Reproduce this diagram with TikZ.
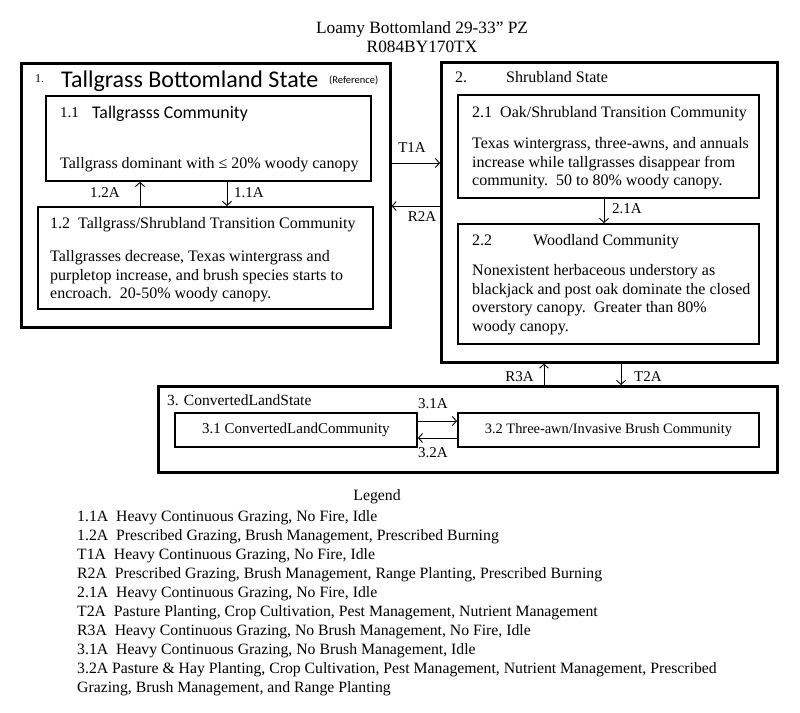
\documentclass[tikz,border=0pt]{standalone}
\usepackage{fontspec}
\setmainfont{Liberation Serif}
\newfontfamily\calfont{Carlito}
\usetikzlibrary{arrows.meta}
\begin{document}
\begin{tikzpicture}[x=1pt,y=-1pt,
  statebox/.style={draw, line width=2.6pt, inner sep=0pt, anchor=north west},
  commbox/.style={draw, line width=1.9pt, inner sep=0pt, anchor=north west},
  body/.style={inner sep=0pt, anchor=north west, align=left, font=\fontsize{16}{18.7}\selectfont},
  line/.style={inner sep=0pt, anchor=base west, font=\fontsize{16}{18.7}\selectfont},
  lbl/.style={inner sep=0pt, anchor=base, font=\fontsize{15}{18}\selectfont},
  arr/.style={-{Straight Barb[length=4pt,width=9pt]}, line width=0.9pt},
  leg/.style={inner sep=0pt, anchor=base west, font=\fontsize{15.75}{19}\selectfont}]
\fill[white] (0,0) rectangle (800,712);
\useasboundingbox (0,0) rectangle (800,712);

% title
\node[lbl, font=\fontsize{17.3}{19}\selectfont] (t1) at (422,33) {Loamy Bottomland 29-33” PZ};
\node[lbl, font=\fontsize{17.3}{19}\selectfont] (t2) at (422,52) {R084BY170TX};

% boxes
\node[statebox, minimum width=369pt, minimum height=264pt] (s1) at (20,62) {};
\node[commbox, minimum width=325pt, minimum height=85pt] (c11) at (45,95) {};
\node[commbox, minimum width=335pt, minimum height=102pt] (c12) at (37,206) {};
\node[statebox, minimum width=336pt, minimum height=300pt] (s2) at (440,61) {};
\node[commbox, minimum width=301pt, minimum height=103pt] (c21) at (457,94) {};
\node[commbox, minimum width=301pt, minimum height=120pt] (c22) at (457,223) {};
\node[statebox, minimum width=619pt, minimum height=86pt] (s3) at (157,385) {};
\node[commbox, minimum width=242pt, minimum height=34pt] (c31) at (174,412) {};
\node[commbox, minimum width=301pt, minimum height=34pt] (c32) at (457,412) {};

% state 1 texts
\node[line, font=\fontsize{12}{14}\selectfont] (n1) at (35,82) {1.};
\node[line, font=\calfont\fontsize{24}{27}\selectfont] (s1t) at (61,87) {Tallgrass Bottomland State};
\node[line, font=\calfont\fontsize{10.5}{12}\selectfont] (s1r) at (329,83) {(Reference)};
\node[line, font=\fontsize{15}{18}\selectfont] (c11n) at (60,117) {1.1};
\node[line, font=\calfont\fontsize{17.8}{20}\selectfont] (c11t) at (92,118) {Tallgrasss Community};
\node[line] (c11b) at (60,168) {Tallgrass dominant with ≤ 20\% woody canopy};
\node[line] (c12t) at (50,228) {1.2\ \ Tallgrass/Shrubland Transition Community};
\node[body] (c12b) at (50,250) {Tallgrasses decrease, Texas wintergrass and\\purpletop increase, and brush species starts to\\encroach.\ \ 20-50\% woody canopy.};

% state 2 texts
\node[line] (n2) at (455,82) {2.};
\node[line] (s2t) at (506,82) {Shrubland State};
\node[line] (c21t) at (472,117) {2.1\ \ Oak/Shrubland Transition Community};
\node[body] (c21b) at (472,137) {Texas wintergrass, three-awns, and annuals\\increase while tallgrasses disappear from\\community.\ \ 50 to 80\% woody canopy.};
\node[line] (c22n) at (472,245) {2.2};
\node[line] (c22t) at (533,245) {Woodland Community};
\node[body] (c22b) at (472,264) {Nonexistent herbaceous understory as\\blackjack and post oak dominate the closed\\overstory canopy.\ \ Greater than 80\%\\woody canopy.};

% state 3 texts
\node[line, font=\fontsize{15.5}{17}\selectfont] (s3t) at (167,405) {3. ConvertedLandState};
\node[inner sep=0pt, font=\fontsize{15}{17}\selectfont] (c31t) at (c31.center) {3.1 ConvertedLandCommunity};
\node[inner sep=0pt, font=\fontsize{14.4}{17}\selectfont] (c32t) at (c32.center) {3.2 Three-awn/Invasive Brush Community};

% helper coordinates
\coordinate (xa) at (140,0);
\coordinate (xb) at (227,0);
\coordinate (yT1) at (0,163);
\coordinate (yR2) at (0,206);
\coordinate (xc) at (604,0);
\coordinate (xR3) at (544,0);
\coordinate (xT2) at (621,0);
\coordinate (y31) at (0,421);
\coordinate (y32) at (0,438);

% connectors
\draw[arr] (c12.north -| xa) -- (c11.south -| xa);
\draw[arr] (c11.south -| xb) -- (c12.north -| xb);
\draw[arr] (s1.east |- yT1) -- (s2.west |- yT1);
\draw[arr] (s2.west |- yR2) -- (s1.east |- yR2);
\draw[arr] (c21.south -| xc) -- (c22.north -| xc);
\draw[arr] (s3.north -| xR3) -- (s2.south -| xR3);
\draw[arr] (s2.south -| xT2) -- (s3.north -| xT2);
\draw[arr] (c31.east |- y31) -- (c32.west |- y31);
\draw[arr] (c32.west |- y32) -- (c31.east |- y32);

% connector labels
\node[lbl] (l12) at (105,197) {1.2A};
\node[lbl, anchor=base west] (l11) at (234,197) {1.1A};
\node[lbl] (lT1) at (412,152) {T1A};
\node[lbl] (lR2) at (422,221) {R2A};
\node[lbl, anchor=base west] (l21) at (612,213) {2.1A};
\node[lbl, anchor=base east] (lR3) at (534,381) {R3A};
\node[lbl, anchor=base west] (lT2) at (634,381) {T2A};
\node[lbl] (l31) at (433,408) {3.1A};
\node[lbl] (l32) at (433,457) {3.2A};

% legend
\node[lbl, font=\fontsize{15.75}{19}\selectfont] (legt) at (377,500) {Legend};
\node[leg] (g1) at (77,521) {1.1A\ \ Heavy Continuous Grazing, No Fire, Idle};
\node[leg] (g2) at (77,540) {1.2A\ \ Prescribed Grazing, Brush Management, Prescribed Burning};
\node[leg] (g3) at (77,559) {T1A\ \ Heavy Continuous Grazing, No Fire, Idle};
\node[leg] (g4) at (77,578) {R2A\ \ Prescribed Grazing, Brush Management, Range Planting, Prescribed Burning};
\node[leg] (g5) at (77,597) {2.1A\ \ Heavy Continuous Grazing, No Fire, Idle};
\node[leg] (g6) at (77,616) {T2A\ \ Pasture Planting, Crop Cultivation, Pest Management, Nutrient Management};
\node[leg] (g7) at (77,635) {R3A\ \ Heavy Continuous Grazing, No Brush Management, No Fire, Idle};
\node[leg] (g8) at (77,654) {3.1A\ \ Heavy Continuous Grazing, No Brush Management, Idle};
\node[leg] (g9) at (77,673) {3.2A Pasture \& Hay Planting, Crop Cultivation, Pest Management, Nutrient Management, Prescribed};
\node[leg] (g10) at (77,692) {Grazing, Brush Management, and Range Planting};
\end{tikzpicture}
\end{document}
